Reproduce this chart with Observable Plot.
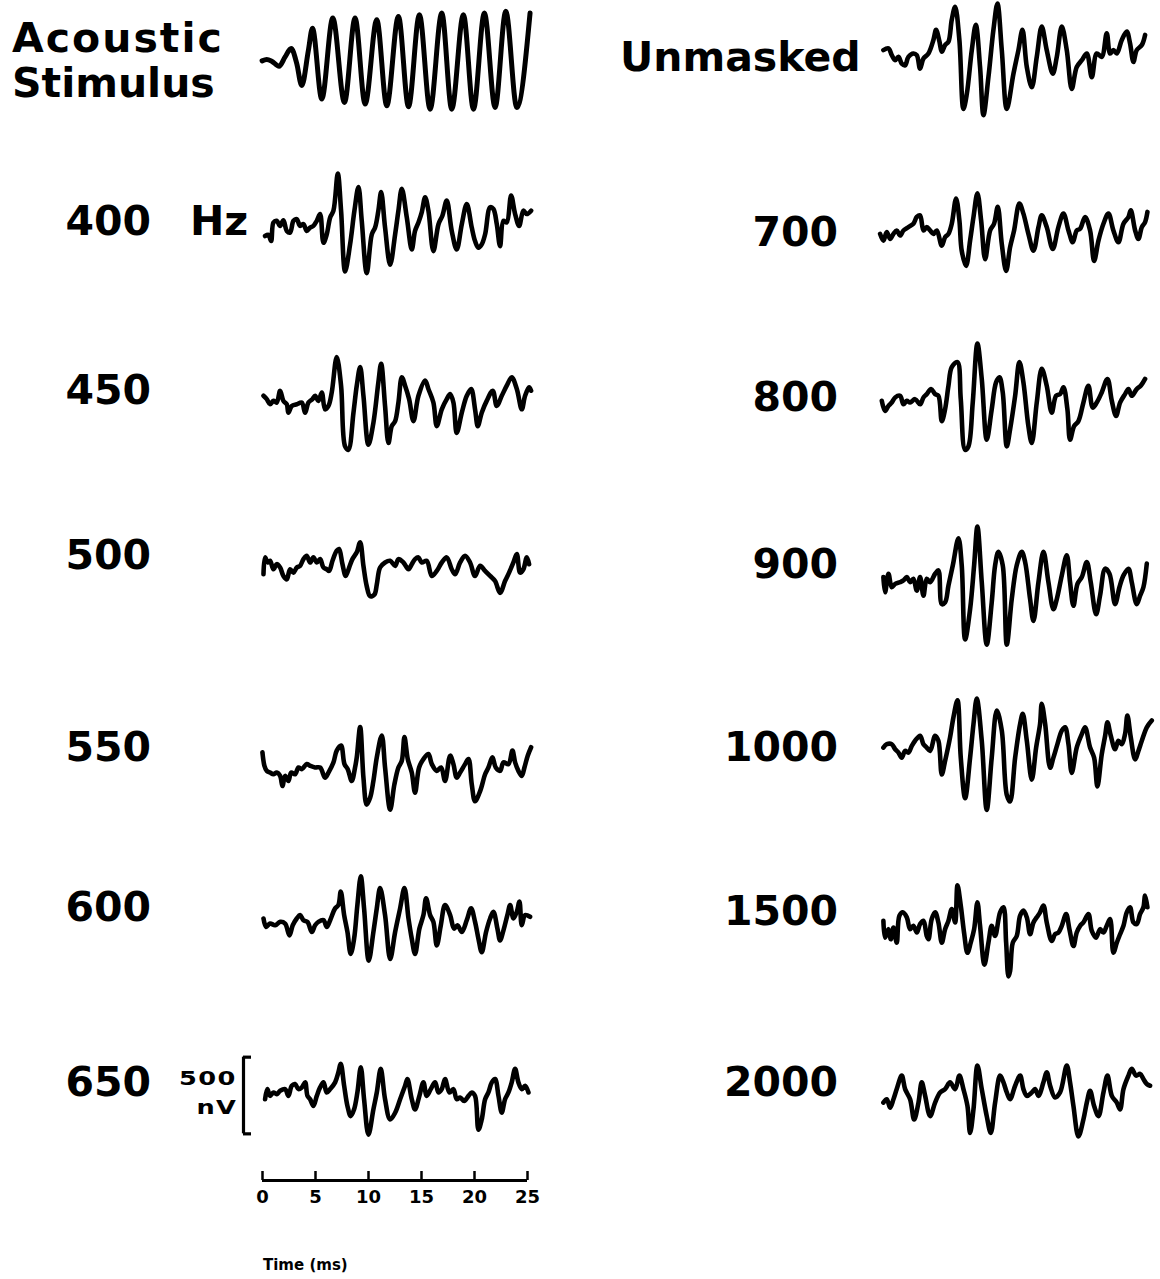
<!DOCTYPE html>
<html>
<head>
<meta charset="utf-8">
<script src="https://cdn.jsdelivr.net/npm/d3@7"></script>
<script src="https://cdn.jsdelivr.net/npm/@observablehq/plot@0.6"></script>
<style>
  body { margin: 0; background: #fff; }
  #fig { position: relative; width: 1160px; height: 1279px; overflow: hidden;
         font-family: "DejaVu Sans", "Liberation Sans", Arial, sans-serif; font-weight: bold; color: #000; }
  .lab { position: absolute; white-space: nowrap; }
  #fig svg { position: absolute; }
</style>
</head>
<body>
<div id="fig"></div>
<script>
// Averaged frequency-following responses: [time (ms), amplitude (nV)]
const stimulus = [[0,0],[0.44,9],[0.91,-2],[1.6,-35],[2.17,26],[2.74,81],[3.27,-18],[3.74,-161],[4.37,70],[4.75,213],[5.63,-249],[6.67,279],[7.77,-271],[8.77,279],[9.72,-282],[10.82,268],[11.76,-293],[12.86,290],[13.81,-299],[14.84,301],[15.85,-315],[16.95,312],[17.89,-315],[18.99,301],[19.94,-315],[20.97,312],[21.98,-304],[22.99,323],[24.03,-304],[25.28,312]];

const unmasked = [[0.31,44],[0.79,55],[1.1,11],[1.42,-22],[1.73,0],[2.04,-44],[2.36,-55],[2.67,0],[3.14,22],[3.46,11],[3.77,-77],[4.09,-11],[4.56,22],[5.03,110],[5.28,176],[5.6,99],[5.82,33],[6.13,77],[6.45,99],[6.76,242],[7.08,326],[7.48,110],[7.86,-340],[8.18,-242],[8.65,44],[9.03,209],[9.43,-66],[9.75,-380],[10.22,-132],[10.69,176],[11.07,348],[11.48,44],[11.95,-340],[12.58,-110],[13.05,44],[13.43,176],[13.84,-66],[14.31,-198],[14.78,0],[15.25,198],[15.72,44],[16.29,-110],[16.67,0],[17.14,198],[17.61,44],[18.08,-209],[18.55,-66],[19.03,-22],[19.5,22],[19.97,-132],[20.44,22],[20.91,0],[21.38,154],[21.7,22],[22.01,44],[22.33,22],[22.8,110],[23.27,165],[23.58,88],[23.9,-33],[24.21,44],[24.69,77],[25,143]];

const masker400 = [[0.28,-66],[0.6,-59],[0.85,-99],[1.07,22],[1.38,33],[1.7,0],[2.01,37],[2.33,-33],[2.64,-44],[2.96,33],[3.27,44],[3.58,0],[3.9,11],[4.21,-33],[4.53,-11],[4.84,0],[5.16,33],[5.47,77],[5.79,-110],[6.1,-55],[6.42,55],[6.73,99],[7.14,341],[7.45,99],[7.83,-297],[8.3,-121],[8.71,99],[9.09,253],[9.4,33],[9.87,-308],[10.35,-55],[10.66,-11],[10.97,99],[11.23,220],[11.6,-11],[12.08,-253],[12.55,-55],[12.86,99],[13.18,242],[13.65,55],[14.12,-154],[14.43,-33],[14.75,22],[15.06,88],[15.38,187],[15.69,99],[16.16,-165],[16.64,11],[17.01,66],[17.42,165],[17.89,-33],[18.36,-154],[18.84,11],[19.31,143],[19.78,-11],[20.09,-99],[20.41,-143],[20.72,-121],[21.04,-55],[21.51,121],[21.82,110],[22.14,11],[22.45,-132],[22.77,33],[23.08,22],[23.49,198],[23.87,77],[24.25,0],[24.65,99],[24.97,77],[25.38,99]];

const masker450 = [[0.13,33],[0.44,11],[0.75,-22],[1.07,0],[1.38,-11],[1.7,66],[2.01,0],[2.33,-22],[2.48,-77],[2.8,-33],[3.27,-22],[3.74,-11],[4.06,-77],[4.37,-11],[4.75,11],[5,33],[5.31,0],[5.63,55],[5.94,-55],[6.26,-33],[6.57,55],[7.04,286],[7.45,99],[7.83,-297],[8.14,-319],[8.62,-77],[8.93,99],[9.25,220],[9.56,33],[10.03,-286],[10.5,-143],[10.97,121],[11.23,242],[11.6,-33],[11.92,-275],[12.23,-165],[12.55,-132],[12.86,-11],[13.18,154],[13.49,99],[13.87,11],[14.28,-132],[14.75,33],[15.38,132],[15.69,77],[16.16,-11],[16.48,-165],[16.95,-55],[17.42,11],[17.74,44],[18.05,-11],[18.36,-209],[18.84,-77],[19.31,33],[19.72,77],[20.09,-55],[20.35,-165],[20.72,-77],[21.19,0],[21.76,66],[22.14,-33],[22.61,33],[23.08,99],[23.55,154],[24.03,77],[24.5,-55],[24.81,33],[25.19,88],[25.38,66]];

const masker500 = [[0.13,-55],[0.28,55],[0.53,22],[0.75,33],[1.07,-22],[1.38,11],[1.7,-11],[2.01,-66],[2.33,-88],[2.64,-22],[2.96,-44],[3.27,-11],[3.58,0],[3.9,44],[4.21,66],[4.53,22],[4.84,55],[5.16,22],[5.47,44],[5.79,-11],[6.1,-22],[6.32,-33],[6.64,33],[7.04,99],[7.26,110],[7.58,11],[7.89,-66],[8.21,-11],[8.52,44],[8.93,88],[9.25,154],[9.56,0],[9.87,-132],[10.19,-198],[10.6,-187],[10.82,-121],[11.13,-11],[11.6,22],[12.08,33],[12.55,0],[12.86,44],[13.33,22],[13.81,-22],[14.12,11],[14.43,44],[14.75,55],[15.06,22],[15.53,33],[16.01,-66],[16.48,-33],[16.95,22],[17.42,55],[17.89,-22],[18.21,-55],[18.68,22],[19.15,66],[19.62,22],[20.09,-66],[20.57,0],[21.04,-33],[21.51,-66],[21.98,-99],[22.45,-176],[22.92,-99],[23.3,-44],[23.71,22],[24.03,77],[24.34,-44],[24.65,-22],[24.97,55],[25.19,11]];

const masker550 = [[0.03,121],[0.22,33],[0.44,0],[0.75,-11],[1.07,-22],[1.38,-11],[1.7,-33],[1.92,-99],[2.17,-33],[2.48,-66],[2.74,-11],[3.11,-22],[3.43,22],[3.74,11],[4.21,44],[4.53,33],[5,22],[5.47,22],[5.94,-44],[6.26,-11],[6.73,55],[7.04,132],[7.45,165],[7.77,44],[8.08,11],[8.46,-66],[8.77,22],[8.93,88],[9.25,286],[9.56,-44],[9.87,-220],[10.19,-176],[10.5,-66],[10.82,88],[11.29,231],[11.6,22],[12.08,-253],[12.48,-88],[12.86,22],[13.18,66],[13.43,220],[13.74,77],[14.12,-11],[14.43,-143],[14.81,22],[15.22,77],[15.69,110],[16.01,44],[16.48,0],[16.89,22],[17.26,-66],[17.74,99],[18.05,44],[18.36,-44],[18.68,-11],[19.15,44],[19.47,77],[19.78,-88],[20.09,-198],[20.57,-132],[21.04,-22],[21.35,22],[21.73,88],[22.04,22],[22.45,0],[22.77,55],[23.24,44],[23.62,132],[23.87,55],[24.18,0],[24.5,-33],[24.75,22],[25.06,99],[25.38,154]];

const masker600 = [[0.13,22],[0.38,-33],[0.75,-11],[1.23,-22],[1.7,0],[2.17,-11],[2.58,-88],[2.89,-22],[3.27,22],[3.58,44],[3.9,11],[4.28,0],[4.69,-66],[5,-22],[5.31,0],[5.79,11],[6.1,-33],[6.42,11],[6.89,88],[7.2,110],[7.42,198],[7.74,44],[8.05,-66],[8.36,-209],[8.68,-110],[8.99,110],[9.31,297],[9.62,88],[10.06,-253],[10.5,-66],[10.82,88],[11.13,220],[11.6,44],[12.08,-242],[12.55,-66],[13.02,88],[13.43,220],[13.81,22],[14.12,-110],[14.43,-209],[14.84,-44],[15.22,44],[15.47,154],[15.85,44],[16.16,0],[16.48,-154],[16.86,-22],[17.26,110],[17.74,44],[18.11,-44],[18.43,-22],[18.84,-66],[19.31,11],[19.72,88],[20.09,0],[20.41,-110],[20.72,-198],[21.13,-66],[21.51,22],[21.82,66],[22.2,-44],[22.45,-121],[22.77,-55],[23.14,44],[23.4,110],[23.71,22],[24.03,66],[24.28,132],[24.5,-22],[24.81,44],[25.28,33]];

const masker650 = [[0.28,-22],[0.5,44],[0.75,0],[1.07,22],[1.38,11],[1.7,33],[2.17,44],[2.48,0],[2.8,66],[3.11,77],[3.43,44],[3.74,55],[4.06,88],[4.28,0],[4.53,-22],[4.84,-66],[5.16,0],[5.47,55],[5.79,88],[6.1,22],[6.42,44],[6.89,88],[7.2,154],[7.42,209],[7.74,66],[8.05,-66],[8.36,-132],[8.68,-88],[8.99,22],[9.31,187],[9.62,-22],[10.03,-253],[10.5,-88],[10.82,22],[11.19,176],[11.6,-22],[12.08,-154],[12.55,-110],[13.02,-22],[13.49,66],[13.71,110],[14.12,-22],[14.43,-88],[14.84,0],[15.22,88],[15.53,0],[15.91,44],[16.32,88],[16.64,22],[16.95,44],[17.26,110],[17.67,22],[18.05,44],[18.36,-22],[18.68,-11],[19.06,-33],[19.47,0],[19.78,22],[20.09,0],[20.41,-220],[20.72,-154],[21.04,-22],[21.35,22],[21.67,88],[21.98,110],[22.3,0],[22.61,-110],[22.92,-22],[23.24,22],[23.55,88],[23.87,176],[24.18,88],[24.5,44],[24.81,66],[25.13,22]];

const masker700 = [[0,0],[0.31,-44],[0.63,11],[0.94,-33],[1.26,0],[1.57,22],[1.89,-11],[2.2,22],[2.67,44],[3.14,66],[3.46,110],[3.77,121],[4.09,22],[4.4,44],[4.72,22],[5.03,0],[5.35,22],[5.82,-77],[6.13,-22],[6.45,0],[6.76,66],[7.17,231],[7.48,88],[7.7,-110],[8.11,-209],[8.49,-44],[8.81,110],[9.18,264],[9.53,88],[9.91,-165],[10.38,22],[10.75,66],[11.1,176],[11.48,-66],[11.89,-242],[12.26,-88],[12.64,22],[13.14,198],[13.52,132],[13.99,0],[14.47,-110],[14.94,44],[15.25,121],[15.72,44],[16.29,-99],[16.82,44],[17.3,132],[17.77,22],[18.18,-55],[18.55,22],[18.87,33],[19.34,110],[19.81,22],[20.19,-176],[20.6,-44],[21.07,66],[21.54,132],[22.01,22],[22.48,-55],[22.96,66],[23.43,110],[23.65,154],[24.06,22],[24.37,-33],[24.69,44],[25,77],[25.22,143]];

const masker800 = [[0.16,0],[0.47,-66],[0.79,-33],[1.1,-11],[1.42,22],[1.89,33],[2.2,-22],[2.52,0],[2.83,-11],[3.3,11],[3.77,-22],[4.09,22],[4.4,44],[4.81,77],[5.19,44],[5.5,33],[5.82,-132],[6.13,-55],[6.45,99],[6.76,220],[7.3,253],[7.61,11],[8.02,-319],[8.33,-297],[8.74,-11],[9.18,374],[9.59,143],[10.06,-253],[10.53,-55],[10.94,121],[11.26,154],[11.57,55],[11.95,-297],[12.26,-187],[12.74,33],[13.14,253],[13.52,121],[13.99,-165],[14.31,-275],[14.78,-11],[15.25,209],[15.72,99],[16.19,-77],[16.6,33],[16.98,44],[17.3,88],[17.67,-55],[17.92,-253],[18.3,-165],[18.71,-132],[19.18,-11],[19.65,99],[20.06,-44],[20.44,-11],[20.91,55],[21.45,143],[21.86,0],[22.26,-99],[22.64,-11],[23.11,44],[23.43,77],[23.74,33],[24.21,77],[24.59,99],[25,143]];

const masker900 = [[0.31,44],[0.47,-55],[0.79,66],[1.1,-22],[1.42,0],[1.89,11],[2.2,22],[2.52,44],[2.83,11],[3.14,33],[3.46,-44],[3.77,44],[4.09,-77],[4.4,33],[4.72,11],[5.19,66],[5.5,88],[5.82,-132],[6.13,-121],[6.45,-11],[6.86,121],[7.39,297],[7.7,121],[8.02,-363],[8.49,-165],[8.87,121],[9.18,374],[9.59,11],[10.06,-396],[10.53,-121],[10.85,121],[11.16,209],[11.57,121],[11.95,-396],[12.42,-99],[12.89,121],[13.36,209],[13.68,143],[14.15,-99],[14.47,-242],[14.94,11],[15.41,209],[15.88,11],[16.35,-165],[16.67,-99],[17.14,55],[17.61,187],[17.92,11],[18.24,-143],[18.62,0],[19.03,44],[19.5,143],[19.87,11],[20.38,-198],[20.75,-77],[21.23,99],[21.64,66],[22.17,-132],[22.58,-22],[22.96,55],[23.43,99],[23.74,11],[24.21,-132],[24.53,-77],[24.84,-22],[25.16,132]];

const masker1000 = [[0.31,-11],[0.63,11],[1.1,11],[1.42,-22],[1.73,-44],[2.04,-77],[2.36,-33],[2.67,-44],[2.99,0],[3.3,33],[3.77,66],[4.09,11],[4.4,-11],[4.72,-33],[5.19,66],[5.5,33],[5.82,-187],[6.13,-99],[6.6,55],[6.92,187],[7.3,297],[7.61,-77],[8.02,-341],[8.49,-77],[8.81,143],[9.12,308],[9.59,33],[10.06,-418],[10.53,-77],[11.01,231],[11.48,99],[11.95,-319],[12.26,-363],[12.74,-77],[13.21,143],[13.46,209],[13.84,33],[14.31,-220],[14.72,-11],[15.09,143],[15.25,275],[15.57,143],[16.04,-143],[16.35,-77],[16.73,11],[17.14,99],[17.45,121],[17.77,11],[18.08,-176],[18.55,-11],[19.03,77],[19.34,121],[19.81,-11],[20.19,-77],[20.5,-264],[20.91,-55],[21.23,66],[21.45,154],[21.76,66],[22.17,-22],[22.48,33],[22.8,11],[23.11,77],[23.33,198],[23.65,55],[24.06,-88],[24.37,-33],[24.69,33],[25.16,121],[25.63,165]];

const masker1500 = [[0.31,66],[0.47,-44],[0.79,11],[1.01,-55],[1.26,22],[1.57,-77],[1.82,99],[2.14,121],[2.52,88],[2.83,11],[3.14,33],[3.46,-11],[3.77,44],[4.09,66],[4.4,-33],[4.56,-55],[4.87,77],[5.19,121],[5.5,55],[5.82,-77],[6.13,11],[6.45,66],[6.76,143],[7.08,55],[7.3,297],[7.61,165],[7.92,-11],[8.24,-143],[8.55,-77],[8.87,11],[9.18,187],[9.43,33],[9.84,-220],[10.22,-77],[10.53,33],[10.85,-33],[11.32,121],[11.64,154],[11.89,-77],[12.11,-297],[12.26,-264],[12.52,-77],[12.89,-33],[13.21,99],[13.52,132],[13.84,88],[14.15,-22],[14.47,55],[14.78,88],[15.09,121],[15.41,165],[15.72,55],[16.19,-66],[16.51,-22],[16.82,-11],[17.14,33],[17.55,110],[17.86,11],[18.24,-99],[18.55,-11],[18.87,33],[19.18,55],[19.65,110],[19.97,0],[20.38,-44],[20.75,11],[21.07,-11],[21.38,33],[21.7,77],[22.01,-143],[22.33,-77],[22.64,-22],[22.96,33],[23.27,121],[23.58,154],[23.9,55],[24.21,44],[24.53,110],[24.84,154],[25,231],[25.22,154]];

const masker2000 = [[0.31,-44],[0.63,-22],[0.94,-77],[1.26,-22],[1.57,44],[2.04,132],[2.36,44],[2.83,-22],[3.21,-154],[3.62,-44],[3.93,88],[4.25,0],[4.72,-132],[5.19,-44],[5.66,22],[6.13,44],[6.6,88],[7.08,44],[7.48,132],[7.86,44],[8.24,-66],[8.49,-242],[8.81,-88],[9.18,198],[9.59,44],[10.06,-132],[10.44,-242],[10.85,-44],[11.32,132],[11.64,88],[11.95,22],[12.26,-22],[12.74,66],[13.21,132],[13.52,44],[13.84,0],[14.31,22],[14.62,44],[14.94,0],[15.41,88],[15.72,154],[16.04,66],[16.51,-11],[16.98,22],[17.61,198],[17.92,88],[18.24,-66],[18.71,-264],[19.18,-154],[19.5,-44],[19.81,33],[20.19,-66],[20.6,-132],[21.07,22],[21.45,132],[21.86,0],[22.33,-44],[22.64,-88],[22.96,44],[23.43,132],[23.74,176],[24.15,132],[24.53,143],[24.84,110],[25.16,77],[25.47,66]];

// Masker frequencies (Hz) for each column, top to bottom
const leftFreqs = ["400", "450", "500", "550", "600", "650"];
const rightFreqs = ["700", "800", "900", "1000", "1500", "2000"];
const timeTicks = [0, 5, 10, 15, 20, 25];
const scaleBarNV = 500;

// ---- drawing ----
const fig = document.getElementById("fig");
const PX_PER_MS = 10.6;   // horizontal scale shared by all traces
const NV_PER_PX = 6.52;   // vertical scale shared by all traces
const FONT = "DejaVu Sans, Liberation Sans, Arial, sans-serif";

function place(el, left, top) {
  el.style.left = left + "px";
  el.style.top = top + "px";
  fig.appendChild(el);
}

function trace(data, x0, y0, sw, curve) {
  const xd = [-1, 26.5], yd = [-700, 700];
  const w = (xd[1] - xd[0]) * PX_PER_MS;
  const h = (yd[1] - yd[0]) / NV_PER_PX;
  const svg = Plot.plot({
    width: w, height: h, margin: 0,
    x: {domain: xd, axis: null},
    y: {domain: yd, axis: null},
    style: {background: "transparent", overflow: "visible"},
    marks: [
      Plot.line(data, {x: d => d[0], y: d => d[1], curve,
        stroke: "black", strokeWidth: sw, strokeLinejoin: "round", strokeLinecap: "round"})
    ]
  });
  place(svg, x0 + xd[0] * PX_PER_MS, y0 - h / 2);
}

function label(text, x, baseline, opts = {}) {
  const fs = opts.size || 41, ls = opts.spacing ?? 0;
  const d = document.createElement("div");
  d.className = "lab";
  d.textContent = text;
  d.style.fontSize = fs + "px";
  d.style.lineHeight = fs + "px";
  d.style.letterSpacing = ls + "px";
  const top = baseline - 0.846 * fs;
  if (opts.align === "right") {
    d.style.right = (1160 - x - ls) + "px";
    d.style.top = top + "px";
    if (opts.scaleX) { d.style.transform = `scaleX(${opts.scaleX})`; d.style.transformOrigin = "right"; }
    fig.appendChild(d);
  } else {
    if (opts.scaleX) { d.style.transform = `scaleX(${opts.scaleX})`; d.style.transformOrigin = "left"; }
    place(d, x, top);
  }
}

const LEFT0 = 262, RIGHT0 = 880;
const leftRows = [225, 400, 565, 770, 921.7, 1095];
const rightRows = [233.3, 400, 583.3, 745, 930, 1095];
const leftTraces = [masker400, masker450, masker500, masker550, masker600, masker650];
const rightTraces = [masker700, masker800, masker900, masker1000, masker1500, masker2000];
const leftLabelBase = [236, 405, 570, 762, 922, 1097];
const rightLabelBase = [247, 412, 579, 762, 926, 1097];

// Stimulus waveform and the unmasked response
trace(stimulus, LEFT0, 60.7, 5, "monotone-x");
trace(unmasked, RIGHT0, 56.7, 4.6, "catmull-rom");
label("Acoustic", 12, 53, {spacing: 2});
label("Stimulus", 12, 98, {spacing: 0});
label("Unmasked", 620, 72, {spacing: 0});

leftTraces.forEach((t, i) => {
  trace(t, LEFT0, leftRows[i], 4.6, "catmull-rom");
  label(leftFreqs[i], 151, leftLabelBase[i], {align: "right"});
});
label("Hz", 190, leftLabelBase[0]);
rightTraces.forEach((t, i) => {
  trace(t, RIGHT0, rightRows[i], 4.6, "catmull-rom");
  label(rightFreqs[i], 838, rightLabelBase[i], {align: "right"});
});

// Amplitude calibration bracket next to the 650 Hz trace
{
  const h = 600 / NV_PER_PX;
  const svg = Plot.plot({
    width: 10, height: h, marginLeft: 2, marginRight: 0, marginTop: 0, marginBottom: 0,
    x: {domain: [0, 1], axis: null},
    y: {domain: [-300, 300], axis: null},
    style: {background: "transparent", overflow: "visible"},
    marks: [
      Plot.ruleX([0], {y1: -scaleBarNV / 2, y2: scaleBarNV / 2, stroke: "black", strokeWidth: 3.2}),
      Plot.ruleY([-scaleBarNV / 2, scaleBarNV / 2], {x1: 0, x2: 1, stroke: "black", strokeWidth: 3.2})
    ]
  });
  place(svg, 241, 1095 - h / 2);
  label(String(scaleBarNV), 236, 1085, {align: "right", size: 19, spacing: 1, scaleX: 1.35});
  label("nV", 236, 1114, {align: "right", size: 19, spacing: 1, scaleX: 1.35});
}

// Time axis under the left column
{
  const ml = 20, mr = 20;
  const svg = Plot.plot({
    width: 25 * PX_PER_MS + ml + mr, height: 50,
    marginLeft: ml, marginRight: mr, marginTop: 0, marginBottom: 0,
    x: {domain: [0, 25], axis: null},
    y: {domain: [0, 1], range: [12, 3], axis: null},
    style: {background: "transparent", overflow: "visible", fontFamily: FONT},
    marks: [
      Plot.ruleY([0], {stroke: "black", strokeWidth: 3}),
      Plot.ruleX(timeTicks, {x: d => d, y1: 0, y2: 1, stroke: "black", strokeWidth: 2.5}),
      Plot.text(timeTicks, {x: d => d, y: 0, dy: 10, lineAnchor: "top", text: d => String(d),
        fontSize: 18, fontWeight: "bold", fill: "black"})
    ]
  });
  place(svg, LEFT0 - ml, 1168);
  label("Time (ms)", 263, 1271, {size: 15, spacing: 0});
}
</script>
</body>
</html>
